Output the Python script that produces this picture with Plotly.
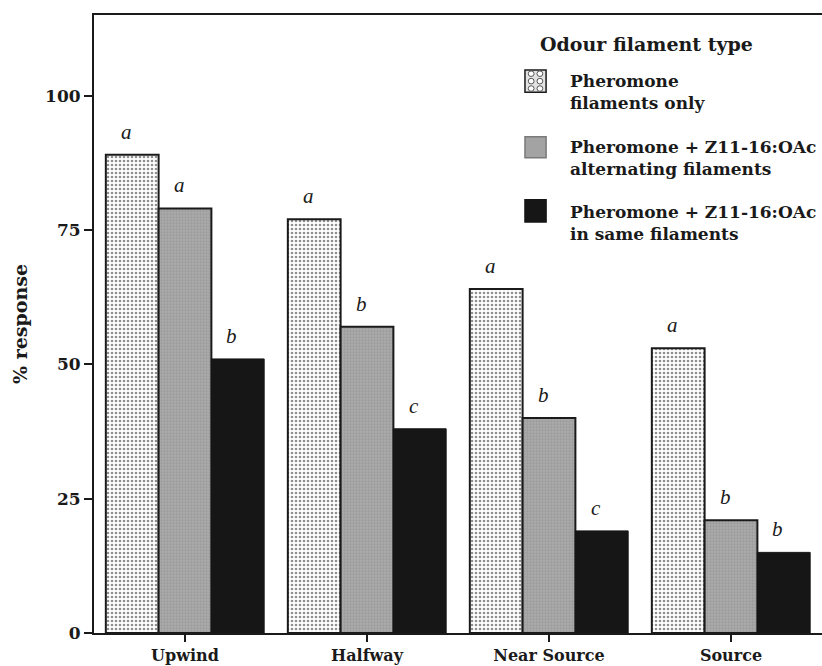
import plotly.graph_objects as go

# Flight-track position at which the response was scored
positions = ["Upwind", "Halfway", "Near Source", "Source"]

# Odour filament treatments
series_names = [
    "Pheromone<br>filaments only",
    "Pheromone + Z11-16:OAc<br>alternating filaments",
    "Pheromone + Z11-16:OAc<br>in same filaments",
]

# % of males responding at each position
pheromone_only = [89, 77, 64, 53]
alternating = [79, 57, 40, 21]
same_filament = [51, 38, 19, 15]

# Significance letters for each bar
letters_pheromone_only = ["a", "a", "a", "a"]
letters_alternating = ["a", "b", "b", "b"]
letters_same_filament = ["b", "c", "c", "b"]

y_ticks = [0, 25, 50, 75, 100]

BOLD = dict(family="DejaVu Serif", color="#1a1a1a", weight="bold")
x_idx = list(range(len(positions)))

styles = [
    dict(color="white", line=dict(color="#1a1a1a", width=2),
         pattern=dict(shape=".", bgcolor="white", fgcolor="#222222",
                      size=4, solidity=0.35)),
    dict(color="#a6a6a6", line=dict(color="#1a1a1a", width=2),
         pattern=dict(shape=".", bgcolor="#ababab", fgcolor="#8c8c8c",
                      size=3, solidity=0.45)),
    dict(color="#161616", line=dict(color="#161616", width=1)),
]

values = [pheromone_only, alternating, same_filament]
letters = [letters_pheromone_only, letters_alternating, letters_same_filament]

fig = go.Figure()
for name, vals, style in zip(series_names, values, styles):
    fig.add_trace(go.Bar(x=x_idx, y=vals, name=name, marker=style,
                         showlegend=False))

bargap = 0.13
bar_w = (1 - bargap) / 3
annotations = []
for k, (vals, lets) in enumerate(zip(values, letters)):
    off = (k - 1) * bar_w
    for i, (v, t) in enumerate(zip(vals, lets)):
        annotations.append(dict(
            x=i + off, y=v, xref="x", yref="y", text=t, showarrow=False,
            xshift=-6, yshift=23, yanchor="middle",
            font=dict(family="Liberation Serif", size=21, style="italic",
                      color="#1a1a1a")))

# Legend drawn in the upper right of the plotting area
annotations.append(dict(
    x=0.610, y=0.953, xref="paper", yref="paper", text="Odour filament type",
    showarrow=False, xanchor="left", yanchor="middle",
    font=dict(size=19, **BOLD)))

legend_text_y = [0.875, 0.769, 0.663]
swatch_y = [(0.875, 0.911), (0.769, 0.803), (0.665, 0.701)]
swatch_fill = ["#e2e2e2", "#a3a3a3", "#161616"]
swatch_line = ["#1a1a1a", "#7a7a7a", "#161616"]
shapes = []
for name, ty, (y0, y1), fc, lc in zip(series_names, legend_text_y, swatch_y,
                                       swatch_fill, swatch_line):
    annotations.append(dict(
        x=0.651, y=ty, xref="paper", yref="paper", text=name,
        showarrow=False, xanchor="left", yanchor="middle", align="left",
        font=dict(size=17, **BOLD)))
    shapes.append(dict(type="rect", xref="paper", yref="paper",
                       x0=0.592, x1=0.621, y0=y0, y1=y1,
                       fillcolor=fc, line=dict(color=lc, width=1.5)))

# Dotted texture for the first swatch
for dx in (0.6005, 0.6125):
    for dy in (0.881, 0.893, 0.905):
        shapes.append(dict(type="circle", xref="paper", yref="paper",
                           x0=dx - 0.004, x1=dx + 0.004,
                           y0=dy - 0.0045, y1=dy + 0.0045,
                           fillcolor="white", line=dict(color="#555", width=1)))

fig.update_layout(
    width=822, height=666,
    margin=dict(l=94, r=0, t=15, b=33),
    paper_bgcolor="white", plot_bgcolor="white",
    barmode="group", bargap=bargap, bargroupgap=0,
    annotations=annotations, shapes=shapes,
    font=dict(family="DejaVu Serif", color="#1a1a1a"),
)
fig.update_xaxes(
    range=[-0.5, 3.5], tickvals=x_idx, ticktext=positions,
    showline=True, linecolor="#1a1a1a", linewidth=2, mirror=True,
    ticks="outside", ticklen=7, tickwidth=1.5, tickcolor="#1a1a1a",
    showgrid=False, zeroline=False, tickfont=dict(size=16, **BOLD),
)
fig.update_yaxes(
    range=[0, 115], tickvals=y_ticks,
    showline=True, linecolor="#1a1a1a", linewidth=2,
    ticks="outside", ticklen=8, tickwidth=1.5, tickcolor="#1a1a1a",
    showgrid=False, zeroline=False, tickfont=dict(size=17, **BOLD),
    title=dict(text="% response", font=dict(size=19, **BOLD), standoff=12),
)

fig.write_html("out.html")
